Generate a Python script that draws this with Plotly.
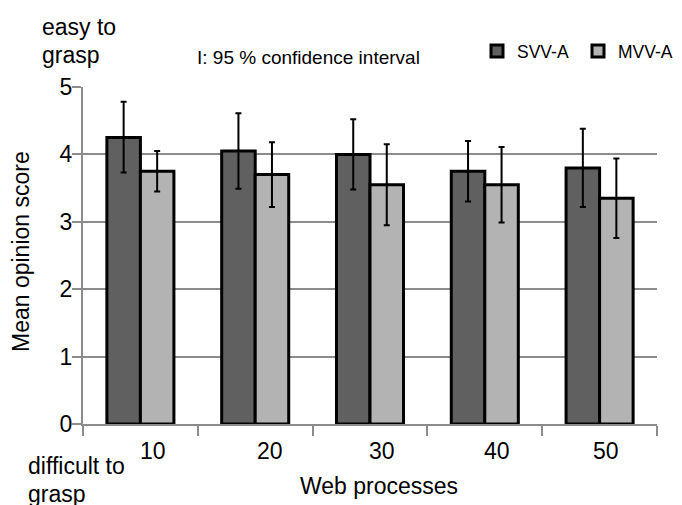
import plotly.graph_objects as go

categories = ["10", "20", "30", "40", "50"]
svv_mean = [4.25, 4.05, 4.0, 3.75, 3.8]
svv_err_plus = [0.53, 0.56, 0.52, 0.45, 0.58]
svv_err_minus = [0.52, 0.56, 0.52, 0.45, 0.58]
mvv_mean = [3.75, 3.7, 3.55, 3.55, 3.35]
mvv_err_plus = [0.3, 0.48, 0.6, 0.56, 0.59]
mvv_err_minus = [0.3, 0.48, 0.6, 0.56, 0.59]
y_ticks = [0, 1, 2, 3, 4, 5]

FONT = "Liberation Sans, Arial, sans-serif"
# the page body has an 8px margin: the figure is laid out in page coordinates minus 8
OFF = 8
W, H = 682 - OFF, 505 - OFF
L, R, T, B = 83 - OFF, 25, 87 - OFF, 81
pw, ph = W - L - R, H - T - B


def px(x):
    return (x - OFF - L) / pw


def py(y):
    return (H - B - (y - OFF)) / ph


fig = go.Figure()
fig.add_trace(go.Bar(
    x=categories, y=svv_mean, name="SVV-A",
    marker=dict(color="#606060", line=dict(color="black", width=3)),
    error_y=dict(type="data", symmetric=False, array=svv_err_plus, arrayminus=svv_err_minus,
                 color="black", thickness=2, width=3),
))
fig.add_trace(go.Bar(
    x=categories, y=mvv_mean, name="MVV-A",
    marker=dict(color="#b3b3b3", line=dict(color="black", width=3)),
    error_y=dict(type="data", symmetric=False, array=mvv_err_plus, arrayminus=mvv_err_minus,
                 color="black", thickness=2, width=3),
))

big = dict(family=FONT, size=23, color="black")
label_shifts = [13, 15, 12, 12, 6]
annotations = []
for i, c in enumerate(categories):
    annotations.append(dict(x=i, y=0, xref="x", yref="y", text=c, showarrow=False,
                            xanchor="center", yanchor="middle", yshift=-(452 - 424) + 1,
                            xshift=label_shifts[i], font=big))
annotations += [
    dict(x=px(40), y=py(27), xref="paper", yref="paper", text="easy to", showarrow=False,
         xanchor="left", yanchor="middle", font=big),
    dict(x=px(40), y=py(55), xref="paper", yref="paper", text="grasp", showarrow=False,
         xanchor="left", yanchor="middle", font=big),
    dict(x=px(26), y=py(466), xref="paper", yref="paper", text="difficult to", showarrow=False,
         xanchor="left", yanchor="middle", font=big),
    dict(x=px(26), y=py(494), xref="paper", yref="paper", text="grasp", showarrow=False,
         xanchor="left", yanchor="middle", font=big),
    dict(x=px(378.7), y=py(486), xref="paper", yref="paper", text="Web processes", showarrow=False,
         xanchor="center", yanchor="middle", font=big),
    dict(x=px(21), y=py(252), xref="paper", yref="paper", text="Mean opinion score", showarrow=False,
         textangle=-90, xanchor="center", yanchor="middle", font=big),
    dict(x=px(308.5), y=py(57), xref="paper", yref="paper", text="I: 95 % confidence interval",
         showarrow=False, xanchor="center", yanchor="middle",
         font=dict(family=FONT, size=19, color="black")),
]

fig.update_layout(
    width=W, height=H,
    margin=dict(l=L, r=R, t=T, b=B, autoexpand=False),
    plot_bgcolor="white", paper_bgcolor="white",
    barmode="group", bargap=0.416, bargroupgap=0,
    font=dict(family=FONT, size=23, color="black"),
    showlegend=True,
    legend=dict(orientation="h", x=px(477), xanchor="left", y=py(51), yanchor="middle",
                font=dict(family=FONT, size=17.5, color="black"),
                traceorder="normal", bgcolor="rgba(0,0,0,0)",
                entrywidth=56, entrywidthmode="pixels"),
    annotations=annotations,
    xaxis=dict(type="category", range=[-0.5, 4.5], showticklabels=False, ticks="outside",
               tickson="boundaries", ticklen=10, tickcolor="#8c8c8c", tickwidth=2,
               showline=True, linecolor="#8c8c8c", linewidth=2, showgrid=False),
    yaxis=dict(range=[0, 5], tickvals=y_ticks, ticks="outside", ticklen=9, tickcolor="#8c8c8c",
               tickwidth=2, showline=True, linecolor="#8c8c8c", linewidth=2,
               showgrid=True, gridcolor="#8c8c8c", gridwidth=2, zeroline=False,
               ticklabelstandoff=-5, tickfont=big),
)
fig.write_html("out.html")
